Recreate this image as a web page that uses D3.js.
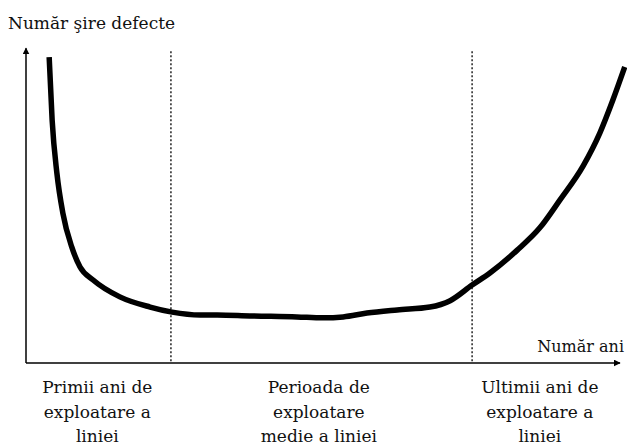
<html><head><meta charset="UTF-8"><title>Număr defecte</title>
<style>
  body, html { margin: 0; padding: 0; background: #fff; overflow: hidden; }
</style>
</head>
<body>
<div id="chart"></div>
<script src="https://d3js.org/d3.v7.min.js"></script>
<script>
const width = 627;
const height = 446;
const serif = "DejaVu Serif";

// curve (x: life span 0..100, y: defects 0..100)
const years = [3.9, 4.4, 5.2, 6.2, 7.7, 9.1, 11.3, 15.8, 20.9, 24.6, 29.3, 32.2, 37.7, 45.6, 50.0, 53.4, 57.4, 62.5, 68.0, 71.4, 75.1, 78.1, 82.7, 86.5, 89.9, 93.8, 96.6, 98.8, 100.8];
const defects = [96.2, 76.4, 59.7, 47.2, 36.5, 30.2, 26.1, 20.8, 17.6, 16.0, 15.1, 15.1, 14.8, 14.5, 14.2, 14.5, 15.7, 16.7, 17.6, 19.6, 24.5, 28.3, 35.5, 42.5, 51.3, 62.0, 72.3, 82.7, 93.1];

const boundaries = [24.4, 75.1];
const periodCenters = [12.0, 49.3, 86.5];
const periodLabels = [
  ["Primii ani de", "exploatare a", "liniei"],
  ["Perioada de", "exploatare", "medie a liniei"],
  ["Ultimii ani de", "exploatare a", "liniei"]
];
const yTitle = "Număr şire defecte";
const xTitle = "Număr ani";

const svg = d3.select("#chart").append("svg")
  .attr("width", width)
  .attr("height", height);

const x = d3.scaleLinear().domain([0, 100]).range([26, 620]);
const y = d3.scaleLinear().domain([0, 100]).range([363, 45]);

// arrow marker
svg.append("defs").append("marker")
  .attr("id", "arrow")
  .attr("viewBox", "0 0 10 10")
  .attr("refX", 9).attr("refY", 5)
  .attr("markerWidth", 7).attr("markerHeight", 7)
  .attr("markerUnits", "userSpaceOnUse")
  .attr("orient", "auto")
  .append("path")
  .attr("d", "M0,0 L10,5 L0,10 z")
  .attr("fill", "#000");

// axes
svg.append("line")
  .attr("x1", x(0)).attr("y1", y(0))
  .attr("x2", x(100)).attr("y2", y(0))
  .attr("stroke", "#000").attr("stroke-width", 1.5)
  .attr("marker-end", "url(#arrow)");
svg.append("line")
  .attr("x1", x(0)).attr("y1", y(0))
  .attr("x2", x(0)).attr("y2", y(99))
  .attr("stroke", "#000").attr("stroke-width", 1.5)
  .attr("marker-end", "url(#arrow)");

// period boundaries
svg.selectAll(".bound")
  .data(boundaries)
  .enter().append("line")
  .attr("class", "bound")
  .attr("x1", d => x(d)).attr("x2", d => x(d))
  .attr("y1", y(98)).attr("y2", y(0))
  .attr("stroke", "#000").attr("stroke-width", 1.3)
  .attr("stroke-dasharray", "2,2");

// bathtub curve
const line = d3.line()
  .x((d, i) => x(years[i]))
  .y(d => y(d))
  .curve(d3.curveMonotoneX);

svg.append("path")
  .attr("d", line(defects))
  .attr("fill", "none")
  .attr("stroke", "#000")
  .attr("stroke-width", 5.5)
  .attr("stroke-linejoin", "round");

// titles
svg.append("text")
  .attr("x", 8).attr("y", 29)
  .attr("font-family", serif)
  .attr("font-size", 17)
  .attr("fill", "#111")
  .text(yTitle);
svg.append("text")
  .attr("x", 624).attr("y", 352)
  .attr("text-anchor", "end")
  .attr("font-family", serif)
  .attr("font-size", 16)
  .attr("fill", "#111")
  .text(xTitle);

// period labels
const groups = svg.selectAll(".period")
  .data(periodLabels)
  .enter().append("text")
  .attr("class", "period")
  .attr("text-anchor", "middle")
  .attr("font-family", serif)
  .attr("font-size", 17)
  .attr("fill", "#111");

groups.selectAll("tspan")
  .data((d, i) => d.map(t => ({ t: t, c: periodCenters[i] })))
  .enter().append("tspan")
  .attr("x", d => x(d.c))
  .attr("y", (d, j) => 393 + j * 24.5)
  .text(d => d.t);
</script>
</body></html>
